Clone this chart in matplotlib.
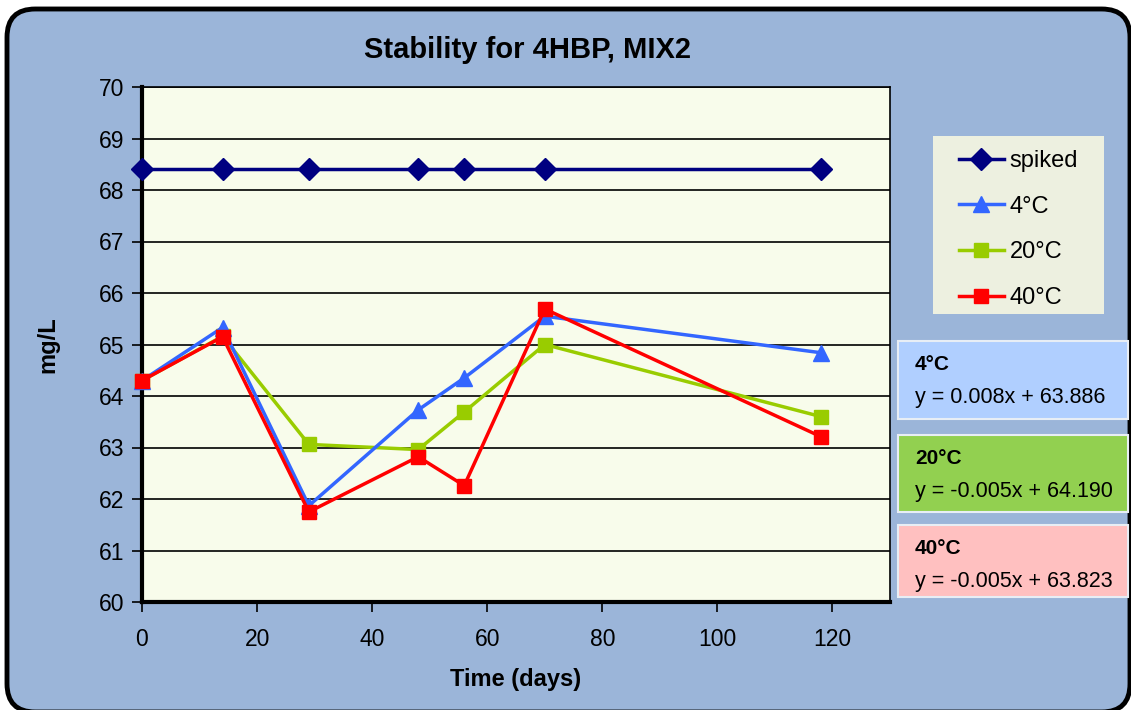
import matplotlib.pyplot as plt
from matplotlib.patches import FancyBboxPatch, Rectangle

plt.rcParams['font.family'] = ['Liberation Sans', 'DejaVu Sans']

# === Data ===
days = [0, 14, 29, 48, 56, 70, 118]
spiked = [68.4, 68.4, 68.4, 68.4, 68.4, 68.4, 68.4]
temp_4 = [64.3, 65.33, 61.87, 63.73, 64.35, 65.55, 64.84]
temp_20 = [64.3, 65.16, 63.06, 62.96, 63.69, 65.0, 63.6]
temp_40 = [64.3, 65.15, 61.75, 62.82, 62.26, 65.69, 63.21]

fit_labels = ["4°C", "20°C", "40°C"]
fit_equations = ["y = 0.008x + 63.886", "y = -0.005x + 64.190", "y = -0.005x + 63.823"]

W, H = 1131, 710

def fx(px):
    return px / W

def fy(py):
    return 1 - py / H

fig = plt.figure(figsize=(11.31, 7.1), dpi=100)
fig.patch.set_facecolor('white')

# === Rounded chart frame ===
frame = FancyBboxPatch((fx(7), fy(712)), fx(1130) - fx(7), fy(9) - fy(712),
                       boxstyle="round,pad=0,rounding_size=0.025",
                       transform=fig.transFigure, facecolor='#9BB5D9',
                       edgecolor='black', linewidth=3.5, zorder=-5,
                       mutation_aspect=W / H)
fig.patches.append(frame)

# === Plot area ===
ax = fig.add_axes([fx(142), fy(602), fx(890) - fx(142), fy(87) - fy(602)])
ax.set_facecolor('#F8FCEB')

ax.plot(days, spiked, color='#000080', marker='D', markersize=11, linewidth=2.5,
        label='spiked', clip_on=False, zorder=5)
ax.plot(days, temp_4, color='#3366FF', marker='^', markersize=11, linewidth=2.5,
        label='4°C', clip_on=False, zorder=4)
ax.plot(days, temp_20, color='#99CC00', marker='s', markersize=10, linewidth=2.5,
        label='20°C', clip_on=False, zorder=3)
ax.plot(days, temp_40, color='#FF0000', marker='s', markersize=10, linewidth=2.5,
        label='40°C', clip_on=False, zorder=6)

ax.set_xlim(0, 130)
ax.set_ylim(60, 70)
ax.set_xticks([0, 20, 40, 60, 80, 100, 120])
ax.set_yticks(range(60, 71))
ax.grid(axis='y', color='black', linewidth=1.2)
ax.set_axisbelow(True)
for side in ['left', 'bottom']:
    ax.spines[side].set_linewidth(3)
for side in ['top', 'right']:
    ax.spines[side].set_linewidth(1.2)
ax.tick_params(axis='both', direction='out', length=7, width=1.2, labelsize=16.5, pad=6)
ax.tick_params(axis='x', pad=12)

ax.set_xlabel("Time (days)", fontsize=17, fontweight='bold', labelpad=12)
ax.set_ylabel("mg/L", fontsize=17, fontweight='bold', labelpad=28)
fig.text(fx(527), fy(50), "Stability for 4HBP, MIX2", fontsize=21,
         fontweight='bold', ha='center', va='center')

# === Legend ===
fig.patches.append(Rectangle((fx(933), fy(314)), fx(1104) - fx(933), fy(136) - fy(314),
                             transform=fig.transFigure, facecolor='#EDF0E0',
                             edgecolor='none', zorder=1))
leg = fig.legend(loc='upper left', bbox_to_anchor=(fx(959), fy(150)),
                 bbox_transform=fig.transFigure, fontsize=17, frameon=False,
                 borderpad=0, labelspacing=1.0, handlelength=1.9,
                 handletextpad=0.25, borderaxespad=0)
leg.set_zorder(2)

# === Trend line equation boxes ===
box_colors = ['#B0CFFF', '#92D050', '#FFC0C0']
box_tops = [341, 435, 525]
box_bottoms = [419, 512, 597]
for label, eq, col, top, bot in zip(fit_labels, fit_equations, box_colors, box_tops, box_bottoms):
    fig.patches.append(Rectangle((fx(898), fy(bot)), fx(1128) - fx(898), fy(top) - fy(bot),
                                 transform=fig.transFigure, facecolor=col,
                                 edgecolor='#E8EEF5', linewidth=1.5, zorder=1))
    fig.text(fx(915), fy(top + 24), label, fontsize=15, fontweight='bold',
             ha='left', va='center', zorder=2)
    fig.text(fx(915), fy(top + 56), eq, fontsize=15.5, ha='left', va='center', zorder=2)

plt.savefig("out.png", dpi=100)
